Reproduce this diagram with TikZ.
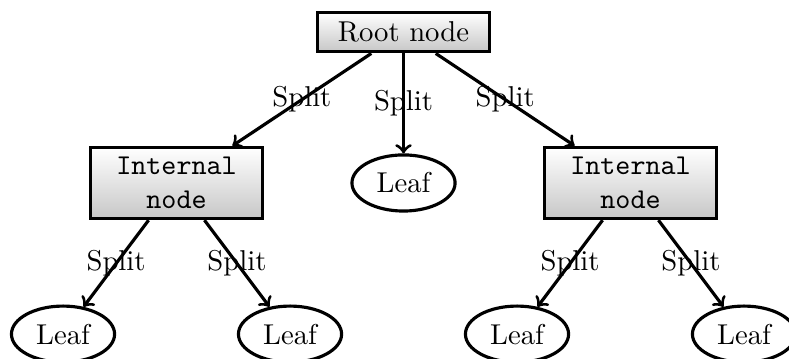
\documentclass[tikz,border=0pt]{standalone}
\usetikzlibrary{shapes.geometric}
\begin{document}
\begin{tikzpicture}[xscale=1,yscale=1]
\tikzstyle{box}=[rectangle,draw,line width=1.1pt,top color=white,bottom color=black!22,minimum width=2.1cm,align=center]
\tikzstyle{leaf}=[ellipse,draw,line width=1.1pt]
\tikzstyle{split}=[->,line width=1.1pt]
\useasboundingbox (-4.942,0.392) rectangle (4.721,-3.993);
\node[box] (root) at (0,0) {Root node};
\node[box,font=\ttfamily] (intL) at (-2.78,-1.849) {Internal\\node};
\node[leaf] (leafM) at (0,-1.849) {Leaf};
\node[box,font=\ttfamily] (intR) at (2.78,-1.849) {Internal\\node};
\node[leaf] (leafLL) at (-4.17,-3.7) {Leaf};
\node[leaf] (leafLR) at (-1.39,-3.7) {Leaf};
\node[leaf] (leafRL) at (1.39,-3.7) {Leaf};
\node[leaf] (leafRR) at (4.17,-3.7) {Leaf};
\draw[split] (root) -- node {Split} (intL);
\draw[split] (root) -- node {Split} (leafM);
\draw[split] (root) -- node {Split} (intR);
\draw[split] (intL) -- node {Split} (leafLL);
\draw[split] (intL) -- node {Split} (leafLR);
\draw[split] (intR) -- node {Split} (leafRL);
\draw[split] (intR) -- node {Split} (leafRR);
\end{tikzpicture}
\end{document}
